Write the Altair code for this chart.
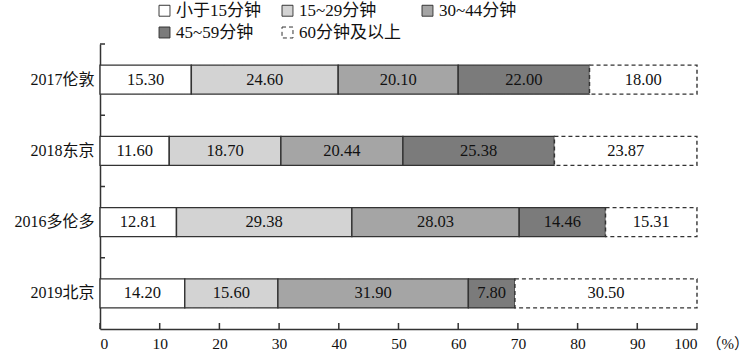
import altair as alt
import pandas as pd

cities = ["2017伦敦", "2018东京", "2016多伦多", "2019北京"]
segments = ["小于15分钟", "15~29分钟", "30~44分钟", "45~59分钟", "60分钟及以上"]
seg_lt15 = [15.30, 11.60, 12.81, 14.20]
seg_15_29 = [24.60, 18.70, 29.38, 15.60]
seg_30_44 = [20.10, 20.44, 28.03, 31.90]
seg_45_59 = [22.00, 25.38, 14.46, 7.80]
seg_ge60 = [18.00, 23.87, 15.31, 30.50]
x_ticks = [0, 10, 20, 30, 40, 50, 60, 70, 80, 90, 100]

colors = ["#ffffff", "#d3d3d3", "#a5a5a5", "#7b7b7b", "#ffffff"]
dashes = [[1, 0], [1, 0], [1, 0], [1, 0], [4, 3]]

series = [seg_lt15, seg_15_29, seg_30_44, seg_45_59, seg_ge60]
rows = []
for si, (name, vals) in enumerate(zip(segments, series)):
    for city, v in zip(cities, vals):
        rows.append({"city": city, "seg": name, "order": si, "value": v})
df = pd.DataFrame(rows)

FONT = "Liberation Serif, Noto Sans CJK SC"
W, H = 597, 285

ysc = alt.Scale(domain=cities, paddingInner=0, paddingOuter=0)
xsc = alt.Scale(domain=[0, 100], nice=False)

base = alt.Chart(df).transform_stack(
    stack="value", groupby=["city"], sort=[{"field": "order", "order": "ascending"}], as_=["x0", "x1"]
).transform_calculate(mid="(datum.x0 + datum.x1) / 2")

bars = base.mark_bar(size=29, stroke="#333333", strokeWidth=1.4).encode(
    y=alt.Y("city:N", scale=ysc, sort=cities,
            axis=alt.Axis(title=None, ticks=False, labelFont=FONT, labelFontSize=16,
                          labelColor="#111111", labelPadding=6, domainColor="#333333", domainWidth=1.5)),
    x=alt.X("x0:Q", scale=xsc,
            axis=alt.Axis(values=x_ticks, ticks=False, labelFont=FONT, labelFontSize=15.5,
                          labelColor="#111111", labelPadding=7, domainColor="#333333", domainWidth=1.5,
                          grid=False, title="（%）", titleFont=FONT, titleFontSize=15, titleFontWeight="normal",
                          titleColor="#111111", titleAlign="left", titleAnchor="start", titleBaseline="top",
                          titleX=606, titleY=7)),
    x2="x1:Q",
    fill=alt.Fill("seg:N", scale=alt.Scale(domain=segments, range=colors), sort=segments,
                  legend=alt.Legend(title=None)),
    strokeDash=alt.StrokeDash("seg:N", scale=alt.Scale(domain=segments, range=dashes), sort=segments,
                              legend=alt.Legend(title=None)),
    order=alt.Order("order:Q"),
)

labels = base.mark_text(font=FONT, fontSize=16.5, color="#111111").encode(
    y=alt.Y("city:N", scale=ysc, sort=cities),
    x=alt.X("mid:Q", scale=xsc),
    text=alt.Text("value:Q", format=".2f"),
)

ytick_df = pd.DataFrame({"city": cities})
yticks = alt.Chart(ytick_df).mark_rule(color="#333333", strokeWidth=1.5).encode(
    y=alt.Y("city:N", scale=ysc, sort=cities, bandPosition=0),
    x=alt.value(0),
    x2=alt.value(5),
)

xtick_df = pd.DataFrame({"t": x_ticks})
xticks = alt.Chart(xtick_df).mark_rule(color="#333333", strokeWidth=1.5).encode(
    x=alt.X("t:Q", scale=xsc),
    y=alt.value(H - 6),
    y2=alt.value(H),
)

chart = alt.layer(bars, labels, yticks, xticks).properties(
    width=W, height=H,
    autosize=alt.AutoSizeParams(type="none"),
    padding={"left": 100, "top": 44, "right": 53, "bottom": 26},
).configure_view(stroke=None).configure_legend(
    orient="none", legendX=56, legendY=-42, columns=3, direction="horizontal",
    columnPadding=18, rowPadding=4, padding=0,
    labelFont=FONT, labelFontSize=17, labelColor="#111111", labelOffset=3,
    symbolType="square", symbolSize=120, symbolStrokeColor="#333333", symbolStrokeWidth=1,
    symbolFillColor="#ffffff",
)

chart.save("out.html", embed_options={"renderer": "svg", "actions": False})
